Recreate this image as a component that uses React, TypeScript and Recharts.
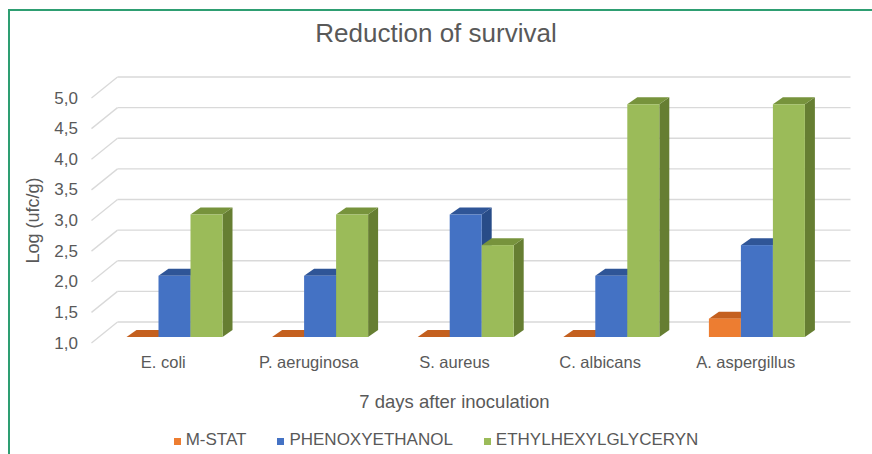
import React from 'react';
import { BarChart, Bar, XAxis, YAxis, CartesianGrid, Legend } from 'recharts';

const categories = ['E. coli', 'P. aeruginosa', 'S. aureus', 'C. albicans', 'A. aspergillus'];
const mStat = [1.0, 1.0, 1.0, 1.0, 1.3];
const phenoxyethanol = [2.0, 2.0, 3.0, 2.0, 2.5];
const ethylhexylglyceryn = [3.0, 3.0, 2.5, 4.8, 4.8];
const yTicks = [1.0, 1.5, 2.0, 2.5, 3.0, 3.5, 4.0, 4.5, 5.0];
const seriesNames = ['M-STAT', 'PHENOXYETHANOL', 'ETHYLHEXYLGLYCERYN'];
const chartTitle = 'Reduction of survival';
const yTitle = 'Log (ufc/g)';
const xTitle = '7 days after inoculation';

const data = categories.map((name, i) => ({
  name,
  mStat: mStat[i],
  phen: phenoxyethanol[i],
  ethyl: ethylhexylglyceryn[i],
}));

const FONT = '"Liberation Sans", Arial, Helvetica, sans-serif';
const TEXT = '#595959';
const GRID = '#D9D9D9';
const DX = 10;
const DY = 7;

const colors = {
  mStat: { front: '#ED7D31', top: '#C4601F', side: '#B5561A' },
  phen: { front: '#4472C4', top: '#2F5597', side: '#284C88' },
  ethyl: { front: '#9BBB59', top: '#77933C', side: '#667E32' },
};

const make3D = (c: { front: string; top: string; side: string }) => (props: any) => {
  const { x, y, width, height } = props;
  if (x == null || y == null) return <g />;
  const h = Math.max(0, height || 0);
  const topPts = `${x},${y} ${x + DX},${y - DY} ${x + width + DX},${y - DY} ${x + width},${y}`;
  const sidePts = `${x + width},${y} ${x + width + DX},${y - DY} ${x + width + DX},${y + h - DY} ${x + width},${y + h}`;
  return (
    <g>
      {h > 0 && <polygon points={sidePts} fill={c.side} />}
      <polygon points={topPts} fill={c.top} />
      {h > 0 && <rect x={x} y={y} width={width} height={h} fill={c.front} />}
    </g>
  );
};

const GridLine = (props: any) => {
  const { x1, y1, x2 } = props;
  return (
    <g>
      <line x1={x1 - 10} y1={y1 + 6} x2={x1 + 16} y2={y1 - 15} stroke={GRID} strokeWidth={1.3} />
      <line x1={x1 + 16} y1={y1 - 15} x2={x2 + 21} y2={y1 - 15} stroke={GRID} strokeWidth={1.3} />
    </g>
  );
};

const YTick = (props: any) => {
  const { y, payload } = props;
  return (
    <text x={78} y={y + 6} textAnchor="end" dominantBaseline="central" fill={TEXT} fontSize={17} fontFamily={FONT}>
      {Number(payload.value).toFixed(1).replace('.', ',')}
    </text>
  );
};

const XTick = (props: any) => {
  const { x, payload } = props;
  return (
    <text x={x - 11} y={368} textAnchor="middle" fill={TEXT} fontSize={16.5} fontFamily={FONT}>
      {payload.value}
    </text>
  );
};

const LegendContent = () => {
  const items = [
    { name: seriesNames[0], color: colors.mStat.front },
    { name: seriesNames[1], color: colors.phen.front },
    { name: seriesNames[2], color: colors.ethyl.front },
  ];
  return (
    <div style={{ display: 'flex', justifyContent: 'center', gap: 31, fontFamily: FONT, fontSize: 17, color: TEXT }}>
      {items.map((it) => (
        <div key={it.name} style={{ display: 'flex', alignItems: 'center' }}>
          <span style={{ display: 'inline-block', width: 7, height: 7, background: it.color, marginRight: 5, marginTop: 2 }} />
          <span>{it.name}</span>
        </div>
      ))}
    </div>
  );
};

export default function App() {
  return (
    <div style={{ position: 'absolute', left: 0, top: 0, width: 872, height: 454, overflow: 'hidden', background: '#fff' }}>
      <div style={{ position: 'absolute', left: 8, top: 9, width: 900, height: 500, borderTop: '2px solid #2E9E72', borderLeft: '2px solid #2E9E72' }} />
      <BarChart
        width={872}
        height={454}
        data={data}
        margin={{ top: 92, right: 42.5, bottom: 87, left: 0 }}
        barGap={0}
        barCategoryGap={0}
      >
        <CartesianGrid vertical={false} horizontal={(p: any) => <GridLine key={p.key} {...p} />} />
        <XAxis
          dataKey="name"
          height={30}
          axisLine={false}
          tickLine={false}
          tick={<XTick />}
          interval={0}
          label={{
            content: (p: any) => (
              <text
                x={p.viewBox.x + p.viewBox.width / 2 - 11}
                y={p.viewBox.y + 71}
                textAnchor="middle"
                fill={TEXT}
                fontSize={18.5}
                fontFamily={FONT}
              >
                {xTitle}
              </text>
            ),
          }}
        />
        <YAxis
          type="number"
          domain={[1, 5]}
          ticks={yTicks}
          width={101.5}
          axisLine={false}
          tickLine={false}
          tick={<YTick />}
          interval={0}
          label={{
            content: (p: any) => (
              <text
                x={33}
                y={p.viewBox.y + p.viewBox.height / 2 + 6}
                textAnchor="middle"
                dominantBaseline="central"
                transform={`rotate(-90, 33, ${p.viewBox.y + p.viewBox.height / 2 + 6})`}
                fill={TEXT}
                fontSize={18}
                fontFamily={FONT}
              >
                {yTitle}
              </text>
            ),
          }}
        />
        <Legend
          layout="horizontal"
          verticalAlign="middle"
          align="center"
          content={<LegendContent />}
          wrapperStyle={{ position: 'absolute', top: 430, left: 0, width: 872 }}
        />
        <Bar dataKey="mStat" name={seriesNames[0]} barSize={32} shape={make3D(colors.mStat)} isAnimationActive={false} minPointSize={0} />
        <Bar dataKey="phen" name={seriesNames[1]} barSize={32} shape={make3D(colors.phen)} isAnimationActive={false} />
        <Bar dataKey="ethyl" name={seriesNames[2]} barSize={32} shape={make3D(colors.ethyl)} isAnimationActive={false} />
      </BarChart>
      <div style={{ position: 'absolute', left: 0, top: 18, width: 872, textAlign: 'center', fontFamily: FONT, fontSize: 26, lineHeight: '30px', color: TEXT }}>
        {chartTitle}
      </div>
    </div>
  );
}
